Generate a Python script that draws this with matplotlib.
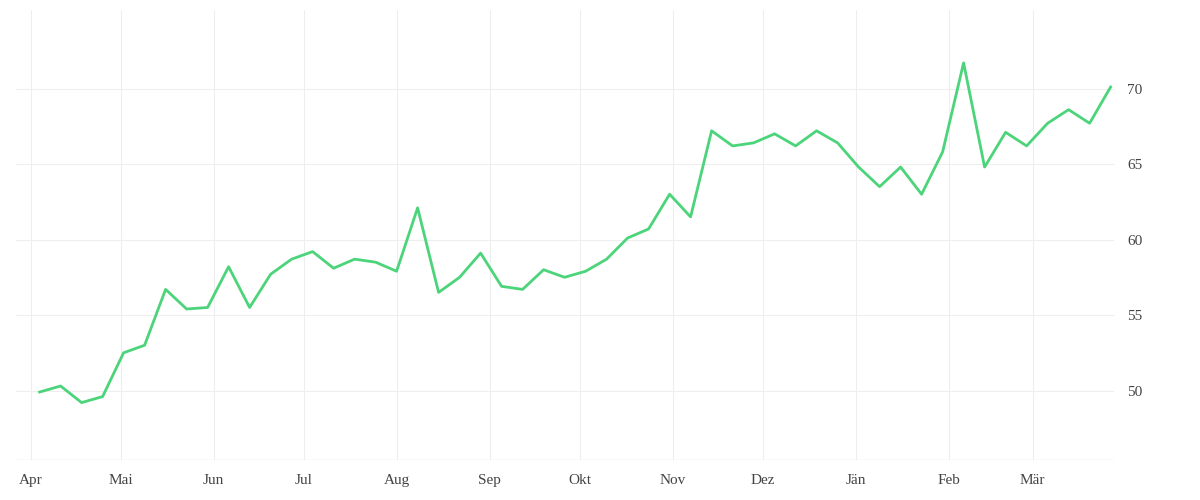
import matplotlib
matplotlib.use("Agg")
import matplotlib.pyplot as plt
import matplotlib.dates as mdates
import pandas as pd

dates = pd.date_range("2022-04-04", periods=52, freq="7D")
values = [49.9, 50.3, 49.2, 49.6, 52.5, 53.0, 56.7, 55.4, 55.5, 58.2, 55.5, 57.7, 58.7,
          59.2, 58.1, 58.7, 58.5, 57.9, 62.1, 56.5, 57.5, 59.1, 56.9, 56.7, 58.0, 57.5,
          57.9, 58.7, 60.1, 60.7, 63.0, 61.5, 67.2, 66.2, 66.4, 67.0, 66.2, 67.2, 66.4,
          64.8, 63.5, 64.8, 63.0, 65.8, 71.7, 64.8, 67.1, 66.2, 67.7, 68.6, 67.7, 70.1]
month_ticks = pd.date_range("2022-04-01", periods=12, freq="MS")
month_labels = ["Apr", "Mai", "Jun", "Jul", "Aug", "Sep", "Okt", "Nov", "Dez", "Jän", "Feb", "Mär"]
y_ticks = [50, 55, 60, 65, 70]

plt.rcParams['font.family'] = ['Liberation Serif', 'DejaVu Serif']
fig = plt.figure(figsize=(12, 5), dpi=100)
ax = fig.add_axes([0.013, 0.08, 0.915, 0.9])
ax.plot(dates, values, color="#4cd47a", lw=2)
ax.set_xlim(pd.Timestamp("2022-03-27"), pd.Timestamp("2023-03-28"))
ax.set_ylim(45.4, 75.2)
ax.set_xticks(list(month_ticks) + [pd.Timestamp("2023-03-28")])
ax.set_xticklabels(month_labels + [""])
ax.set_yticks(y_ticks)
ax.yaxis.tick_right()
ax.grid(True, color="#eeeeee", lw=0.8)
for s in ax.spines.values():
    s.set_visible(False)
ax.axhline(45.4, color="#e5e5e5", lw=1)
ax.tick_params(length=0, labelsize=11, colors="#444444", pad=10)
fig.savefig("out.png")
